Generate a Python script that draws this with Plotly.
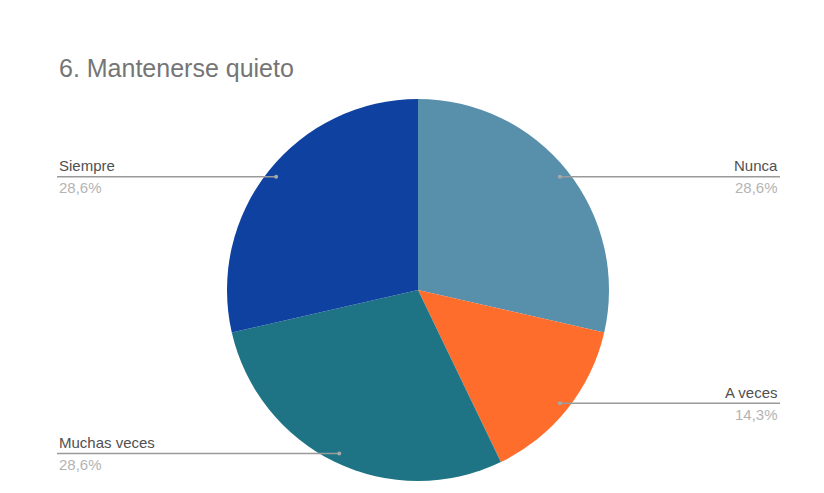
import numpy as np
import plotly.graph_objects as go

# Data
labels = ["Nunca", "A veces", "Muchas veces", "Siempre"]
values = [2, 1, 2, 2]
colors = ["#5890ac", "#ff6d2c", "#1e7484", "#0f41a0"]
title_text = "6. Mantenerse quieto"

W, H = 824, 493
OFF = 8  # page body margin
cx, cy, R = 418 - OFF, 290 - OFF, 191  # pie centre and radius in pixels
left_x, right_x = 57 - OFF, 780 - OFF
font_family = "Liberation Sans, Arial, sans-serif"


def px(x):
    return x / W


def py(y):
    return 1 - y / H


fig = go.Figure(
    go.Pie(
        labels=labels,
        values=values,
        sort=False,
        direction="clockwise",
        rotation=0,
        marker=dict(colors=colors, line=dict(width=0)),
        textinfo="none",
        hoverinfo="label+percent",
        domain=dict(x=[px(cx - R), px(cx + R)], y=[py(cy + R), py(cy - R)]),
        showlegend=False,
    )
)

total = float(sum(values))
start = 0.0
shapes = []
annotations = []
for lab, v in zip(labels, values):
    frac = v / total
    theta = (start + frac / 2) * 2 * np.pi
    start += frac
    dx = cx + 0.95 * R * np.sin(theta)
    dy = cy - 0.95 * R * np.cos(theta)
    right = np.sin(theta) > 0
    end_x = right_x if right else left_x
    shapes.append(
        dict(
            type="line", xref="paper", yref="paper",
            x0=px(dx), x1=px(end_x), y0=py(dy), y1=py(dy),
            line=dict(color="#9a9a9a", width=1.5), layer="above",
        )
    )
    shapes.append(
        dict(
            type="circle", xref="paper", yref="paper",
            x0=px(dx - 2), x1=px(dx + 2), y0=py(dy + 2), y1=py(dy - 2),
            fillcolor="#a8a8a8", line=dict(width=0), layer="above",
        )
    )
    anchor = "right" if right else "left"
    pct = f"{frac * 100:.1f}%".replace(".", ",")
    annotations.append(
        dict(
            x=px(end_x), y=py(dy - 11), xref="paper", yref="paper",
            text=lab, showarrow=False, xanchor=anchor, yanchor="middle",
            font=dict(family=font_family, size=15, color="#505050"),
        )
    )
    annotations.append(
        dict(
            x=px(end_x), y=py(dy + 11), xref="paper", yref="paper",
            text=pct, showarrow=False, xanchor=anchor, yanchor="middle",
            font=dict(family=font_family, size=15, color="#b4b4b4"),
        )
    )

annotations.append(
    dict(
        x=px(left_x), y=py(68 - OFF), xref="paper", yref="paper",
        text=title_text, showarrow=False, xanchor="left", yanchor="middle",
        font=dict(family=font_family, size=25, color="#757575"),
    )
)

fig.update_layout(
    width=W,
    height=H,
    margin=dict(l=0, r=0, t=0, b=0),
    paper_bgcolor="white",
    plot_bgcolor="white",
    shapes=shapes,
    annotations=annotations,
)

fig.write_html("out.html")
